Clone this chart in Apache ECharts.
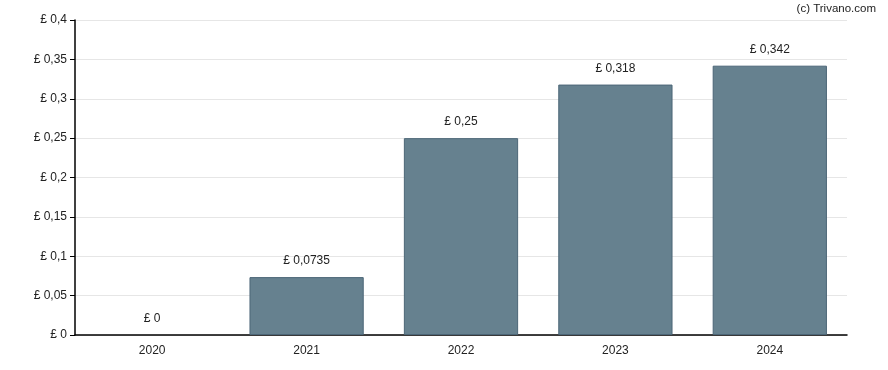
<!DOCTYPE html>
<html><head><meta charset="utf-8">
<script src="https://cdn.jsdelivr.net/npm/echarts@6/dist/echarts.min.js"></script>
<style>html,body{margin:0;padding:0;background:#fff}#c{width:888px;height:370px}</style>
</head><body><div id="c"></div>
<script>
const categories = ['2020','2021','2022','2023','2024'];
const values = [0, 0.0735, 0.25, 0.318, 0.342];
const labels = ['£ 0','£ 0,0735','£ 0,25','£ 0,318','£ 0,342'];
const yMin = 0, yMax = 0.4, yInterval = 0.05;

const FONT = '"Liberation Sans", Arial, sans-serif';
const fmt = v => '£ ' + String(+v.toFixed(4)).replace('.', ',');
const chart = echarts.init(document.getElementById('c'), null, {renderer:'canvas'});
chart.setOption({
  animation:false,
  textStyle:{fontFamily:FONT},
  graphic:[{type:'text', right:12, top:3, style:{text:'(c) Trivano.com', font:'11.5px ' + FONT, fill:'#222'}}],
  grid:{left:75, right:41, top:20, bottom:35, containLabel:false},
  xAxis:{type:'category', data:categories,
    axisLine:{lineStyle:{color:'#000', width:1.5}},
    axisTick:{alignWithLabel:true, length:5, lineStyle:{color:'#000'}},
    axisLabel:{color:'#222', fontSize:12, margin:10}},
  yAxis:{type:'value', min:yMin, max:yMax, interval:yInterval,
    axisLine:{show:true, lineStyle:{color:'#000', width:1.5}},
    axisTick:{show:true, length:5, lineStyle:{color:'#000'}},
    axisLabel:{color:'#222', fontSize:12, margin:8, formatter:fmt},
    splitLine:{lineStyle:{color:'#e6e6e6'}}},
  series:[{type:'bar', barWidth:'74%',
    data: values.map(v => ({value:v, itemStyle:{borderWidth: v === 0 ? 0 : 1}})),
    itemStyle:{color:'#66818f', borderColor:'#4c6677', borderWidth:1},
    label:{show:true, position:'top', distance:10, color:'#222', fontSize:12,
      formatter:p=>labels[p.dataIndex]}}]
});
</script></body></html>
